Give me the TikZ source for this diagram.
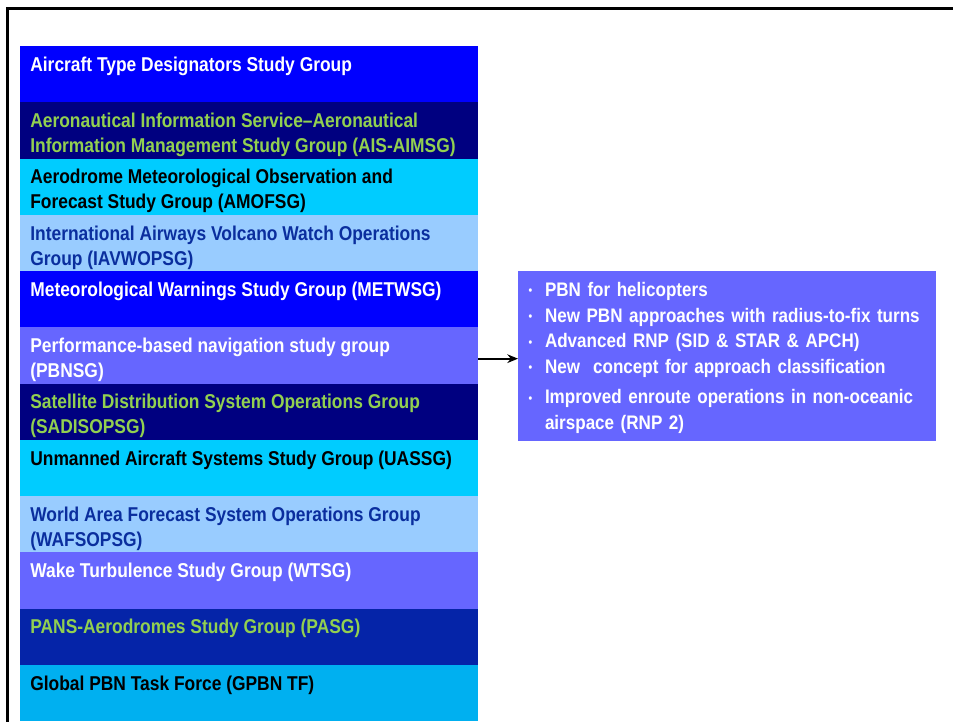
\documentclass[tikz,border=0pt]{standalone}
\usepackage{fontspec}
\setmainfont{Liberation Sans}[FakeStretch=0.87]
\usetikzlibrary{arrows.meta, positioning}
\definecolor{icBlue}{HTML}{0000FF}
\definecolor{icNavy}{HTML}{000080}
\definecolor{icCyan}{HTML}{00CCFF}
\definecolor{icSky}{HTML}{99CCFF}
\definecolor{icViolet}{HTML}{6666FF}
\definecolor{icRoyal}{HTML}{0524A8}
\definecolor{icAzure}{HTML}{00B0F0}
\definecolor{icGreen}{HTML}{92D050}
\definecolor{icInk}{HTML}{0A2E9E}
\newcommand{\grptext}[1]{\parbox[c][42.19pt][t]{328pt}{\raggedright\rule{0pt}{19pt}#1}}
\newcommand{\bdot}{\hspace{0.5pt}\raisebox{1.2pt}{\fontsize{9}{9}\selectfont •}}
\tikzset{
  grp/.style    = {rectangle, draw=none, inner xsep=7.5pt, inner ysep=0pt, outer sep=0pt,
                   minimum width=343.5pt, minimum height=42.19pt,
                   font=\bfseries\fontsize{15}{18.75}\selectfont},
  frame/.style  = {draw=black, line width=1.9pt},
  link/.style   = {-{Stealth[length=8pt, width=6.5pt]}, line width=1.4pt, black},
}
\begin{document}
\begin{tikzpicture}[x=0.75pt, y=-0.75pt, node distance=0pt,
    bulletbox/.style={rectangle, fill=icViolet, text=white, anchor=north west,
      inner xsep=7.5pt, inner ysep=0pt, outer sep=0pt, align=left,
      minimum width=313.5pt, minimum height=127.5pt, text width=298.5pt,
      font=\bfseries\fontsize{14.7}{19.3}\selectfont}]
  \useasboundingbox (0,0) rectangle (953,721);
  \clip (0,0) rectangle (953,721);
  \draw[frame] (7.5,8.5) rectangle (1000,800);
  % study groups
  \node[grp, fill=icBlue, text=white, anchor=north west] (r1) at (20,46)
    {\grptext{Aircraft Type Designators Study Group}};
  \node[grp, fill=icNavy, text=icGreen, below=of r1] (r2)
    {\grptext{Aeronautical Information Service–Aeronautical\\Information Management Study Group (AIS-AIMSG)}};
  \node[grp, fill=icCyan, text=black, below=of r2] (r3)
    {\grptext{Aerodrome Meteorological Observation and\\Forecast Study Group (AMOFSG)}};
  \node[grp, fill=icSky, text=icInk, below=of r3] (r4)
    {\grptext{International Airways Volcano Watch Operations\\Group (IAVWOPSG)}};
  \node[grp, fill=icBlue, text=white, below=of r4] (r5)
    {\grptext{Meteorological Warnings Study Group (METWSG)}};
  \node[grp, fill=icViolet, text=white, below=of r5] (r6)
    {\grptext{Performance-based navigation study group\\(PBNSG)}};
  \node[grp, fill=icNavy, text=icGreen, below=of r6] (r7)
    {\grptext{Satellite Distribution System Operations Group\\(SADISOPSG)}};
  \node[grp, fill=icCyan, text=black, below=of r7] (r8)
    {\grptext{Unmanned Aircraft Systems Study Group (UASSG)}};
  \node[grp, fill=icSky, text=icInk, below=of r8] (r9)
    {\grptext{World Area Forecast System Operations Group\\(WAFSOPSG)}};
  \node[grp, fill=icViolet, text=white, below=of r9] (r10)
    {\grptext{Wake Turbulence Study Group (WTSG)}};
  \node[grp, fill=icRoyal, text=icGreen, below=of r10] (r11)
    {\grptext{PANS-Aerodromes Study Group (PASG)}};
  \node[grp, fill=icAzure, text=black, below=of r11] (r12)
    {\grptext{Global PBN Task Force (GPBN TF)}};
  % PBNSG work items
  \node[bulletbox] (pb) at (518,271)
    {\begin{tabular}{@{}p{12.75pt}@{}l@{}}
       \bdot\rule{0pt}{18.75pt} & PBN for helicopters\\
       \bdot & New PBN approaches with radius-to-fix turns\\
       \bdot & Advanced RNP (SID \& STAR \& APCH)\\
       \bdot & New\ \ concept for approach classification\\[3.5pt]
       \bdot & Improved enroute operations in non-oceanic\\
             & airspace (RNP 2)\rule[-8.25pt]{0pt}{8.25pt}
     \end{tabular}};
  \draw[link] ([yshift=-2pt]r6.east |- pb.west) -- ([yshift=-2pt]pb.west);
\end{tikzpicture}
\end{document}
